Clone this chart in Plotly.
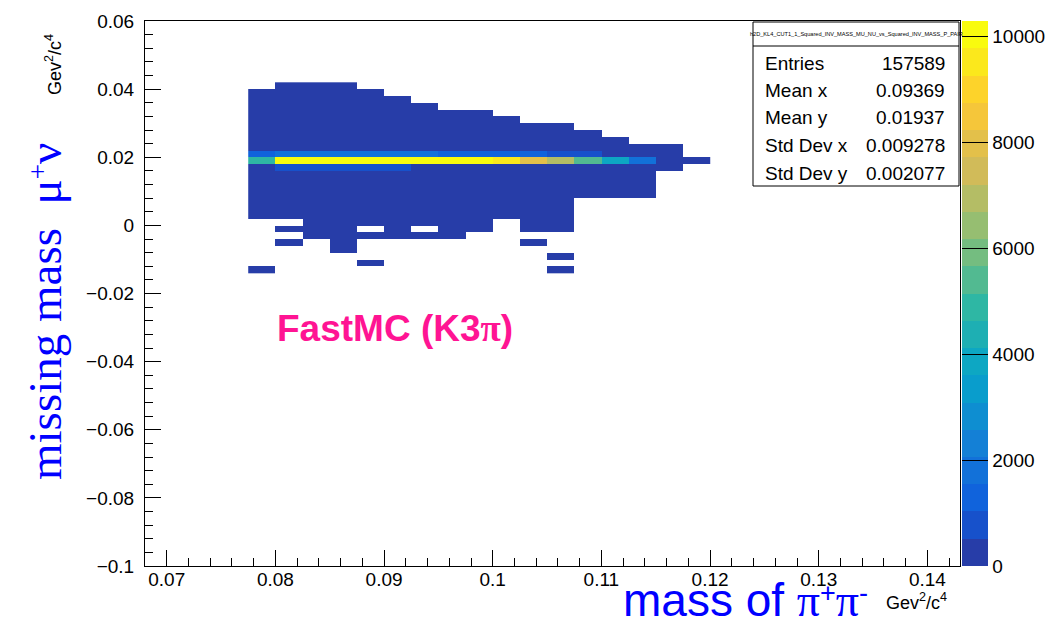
import plotly.graph_objects as go

# ---------------- data ----------------
x_centers = [0.07875, 0.08125, 0.08375, 0.08625, 0.08875, 0.09125, 0.09375, 0.09625,
             0.09875, 0.10125, 0.10375, 0.10625, 0.10875, 0.11125, 0.11375, 0.11625, 0.11875]
y_centers = [0.041, 0.039, 0.037, 0.035, 0.033, 0.031, 0.029, 0.027, 0.025, 0.023,
             0.021, 0.019, 0.017, 0.015, 0.013, 0.011, 0.009, 0.007, 0.005, 0.003,
             0.001, -0.001, -0.003, -0.005, -0.007, -0.009, -0.011, -0.013]
N = None
counts = [
    [N, 12, 15, 10, N, N, N, N, N, N, N, N, N, N, N, N, N],
    [8, 20, 22, 18, 9, N, N, N, N, N, N, N, N, N, N, N, N],
    [10, 25, 28, 24, 17, 8, N, N, N, N, N, N, N, N, N, N, N],
    [12, 30, 33, 30, 22, 15, 7, N, N, N, N, N, N, N, N, N, N],
    [14, 36, 40, 35, 28, 20, 14, 8, 5, N, N, N, N, N, N, N, N],
    [17, 44, 48, 42, 34, 27, 19, 13, 9, 5, N, N, N, N, N, N, N],
    [20, 55, 58, 52, 42, 33, 25, 18, 13, 9, 6, 4, N, N, N, N, N],
    [25, 70, 74, 66, 53, 42, 33, 25, 18, 13, 9, 6, 4, N, N, N, N],
    [32, 95, 98, 88, 72, 58, 45, 35, 27, 20, 14, 10, 7, 4, N, N, N],
    [45, 160, 170, 150, 125, 100, 80, 62, 48, 36, 26, 19, 13, 9, 5, 3, N],
    [1400, 1950, 2000, 1980, 1900, 1800, 1650, 1500, 1400, 1300, 1150, 950, 700, 450, 260, 90, N],
    [4900, 10100, 10290, 10250, 10180, 10120, 10050, 9950, 9850, 9500, 7950, 6950, 5400, 3850, 1800, 380, 120],
    [200, 900, 950, 920, 850, 750, 480, 420, 380, 340, 290, 240, 180, 120, 70, 30, N],
    [60, 180, 190, 175, 160, 145, 130, 115, 100, 88, 75, 62, 48, 32, 18, N, N],
    [35, 100, 105, 98, 90, 82, 74, 66, 58, 50, 42, 35, 27, 18, 10, N, N],
    [25, 70, 74, 68, 62, 57, 51, 46, 40, 35, 30, 24, 18, 12, 7, N, N],
    [20, 52, 55, 50, 46, 42, 38, 34, 30, 26, 22, 18, 13, 9, 5, N, N],
    [16, 40, 42, 38, 35, 32, 29, 26, 23, 20, 16, 12, N, N, N, N, N],
    [12, 30, 32, 29, 27, 24, 22, 19, 17, 15, 12, 9, N, N, N, N, N],
    [9, 22, 24, 22, 20, 18, 16, 14, 12, 10, 8, 6, N, N, N, N, N],
    [N, N, 15, 14, 12, 11, 9, 8, 7, N, 5, 4, N, N, N, N, N],
    [N, 3, 9, 8, N, 7, N, 5, 4, N, 3, 2, N, N, N, N, N],
    [N, N, 5, 5, 4, 4, 3, 3, N, N, N, N, N, N, N, N, N],
    [N, 2, N, 3, N, N, N, N, N, N, 2, N, N, N, N, N, N],
    [N, N, N, 2, N, N, N, N, N, N, N, N, N, N, N, N, N],
    [N, N, N, N, N, N, N, N, N, N, N, 1, N, N, N, N, N],
    [N, N, N, N, 1, N, N, N, N, N, N, N, N, N, N, N, N],
    [1, N, N, N, N, N, N, N, N, N, N, 1, N, N, N, N, N],
]
z_max = 10290

stats_title = "h2D_KL4_CUT1_1_Squared_INV_MASS_MU_NU_vs_Squared_INV_MASS_P_PAIR"
stats_labels = ["Entries", "Mean x", "Mean y", "Std Dev x", "Std Dev y"]
stats_values = ["157589", "0.09369", "0.01937", "0.009278", "0.002077"]

# ---------------- ROOT kBird palette, 20 contour levels ----------------
stops = [0.0, 0.125, 0.25, 0.375, 0.5, 0.625, 0.75, 0.875, 1.0]
red = [0.2082, 0.0592, 0.0780, 0.0232, 0.1802, 0.5301, 0.8186, 0.9956, 0.9764]
green = [0.1664, 0.3599, 0.5041, 0.6419, 0.7178, 0.7492, 0.7328, 0.7862, 0.9832]
blue = [0.5293, 0.8684, 0.8385, 0.7914, 0.6425, 0.4662, 0.3499, 0.1968, 0.0539]


def bird(f):
    for k in range(len(stops) - 1):
        if stops[k] <= f <= stops[k + 1]:
            t = (f - stops[k]) / (stops[k + 1] - stops[k])
            r = red[k] + t * (red[k + 1] - red[k])
            g = green[k] + t * (green[k + 1] - green[k])
            b = blue[k] + t * (blue[k + 1] - blue[k])
            return "rgb(%d,%d,%d)" % (round(r * 255), round(g * 255), round(b * 255))
    return "rgb(0,0,0)"


ncont = 20
colorscale = []
for i in range(ncont):
    idx = int((i + 0.99) * 255 / ncont)
    c = bird(min(idx, 254) / 254)
    colorscale.append([i / ncont, c])
    colorscale.append([(i + 1) / ncont, c])

# ---------------- layout geometry (pixels) ----------------
W, H = 1053, 627
L, R, T, B = 145, 960, 21, 566


def px(xp):
    return (xp - L) / (R - L)


def py(yp):
    return (B - yp) / (B - T)


SANS = "Liberation Sans, Arial, Helvetica, sans-serif"
SERIF = "Liberation Serif, Times New Roman, serif"

fig = go.Figure()
fig.add_trace(go.Heatmap(
    x=x_centers, y=y_centers, z=counts,
    zmin=0, zmax=z_max, colorscale=colorscale, zsmooth=False,
    hoverongaps=False,
    colorbar=dict(
        x=px(962), xanchor="left",
        y=0, yanchor="bottom",
        lenmode="fraction", len=1,
        thicknessmode="pixels", thickness=26,
        outlinewidth=0,
        tick0=0, dtick=2000, tickformat="d",
        ticks="inside", ticklen=26, tickcolor="black", tickwidth=1,
        tickfont=dict(family=SANS, size=19, color="black"),
        xpad=0, ypad=0,
    ),
))

fig.update_layout(
    width=W, height=H,
    margin=dict(l=L, r=W - R, t=T, b=H - B, pad=0, autoexpand=False),
    paper_bgcolor="white", plot_bgcolor="white",
    showlegend=False,
    xaxis=dict(
        range=[0.068, 0.143], showgrid=False, zeroline=False,
        showline=True, linecolor="black", linewidth=1, mirror=True,
        tick0=0.07, dtick=0.01, ticks="inside", ticklen=16, tickcolor="black",
        minor=dict(dtick=0.002, tick0=0.07, ticks="inside", ticklen=8, tickcolor="black", showgrid=False),
        tickfont=dict(family=SANS, size=19, color="black"),
        ticklabelstandoff=-4,
    ),
    yaxis=dict(
        range=[-0.1, 0.06], showgrid=False, zeroline=False,
        showline=True, linecolor="black", linewidth=1, mirror=True,
        tick0=0, dtick=0.02, ticks="inside", ticklen=16, tickcolor="black",
        minor=dict(dtick=0.004, tick0=0, ticks="inside", ticklen=8, tickcolor="black", showgrid=False),
        tickfont=dict(family=SANS, size=19, color="black"),
        ticklabelstandoff=6,
    ),
)

SUP = '<span style="font-size:27px;baseline-shift:14px">%s</span>'

ann = []
# axis titles
ann.append(dict(x=px(45), y=py(312), xref="paper", yref="paper", textangle=-90,
                text="missing mass  μ" + SUP % "+" + "ν", showarrow=False,
                font=dict(family=SERIF, size=47, color="#0000ff"),
                xanchor="center", yanchor="middle"))
ann.append(dict(x=px(53), y=py(65), xref="paper", yref="paper", textangle=-90,
                text="Gev<sup>2</sup>/c<sup>4</sup>", showarrow=False,
                font=dict(family=SANS, size=18, color="black"),
                xanchor="center", yanchor="middle"))
ann.append(dict(x=px(745), y=py(600), xref="paper", yref="paper",
                text='mass of <span style="font-family:Liberation Serif">π</span>' + SUP % "+"
                     + '<span style="font-family:Liberation Serif">π</span>' + SUP % "-",
                showarrow=False, font=dict(family=SANS, size=46, color="#0000ff"),
                xanchor="center", yanchor="middle"))
ann.append(dict(x=px(916), y=py(601), xref="paper", yref="paper",
                text="Gev<sup>2</sup>/c<sup>4</sup>", showarrow=False,
                font=dict(family=SANS, size=18, color="black"),
                xanchor="center", yanchor="middle"))
# label
ann.append(dict(x=px(395), y=py(328), xref="paper", yref="paper",
                text='<b>FastMC (K3<span style="font-family:Liberation Serif">π</span>)</b>',
                showarrow=False, font=dict(family=SANS, size=37, color="#ff1493"),
                xanchor="center", yanchor="middle"))

# stats box
shapes = [
    dict(type="rect", xref="paper", yref="paper", x0=px(753), x1=px(959), y0=py(186), y1=py(22),
         line=dict(color="black", width=1), fillcolor="white", layer="above"),
    dict(type="line", xref="paper", yref="paper", x0=px(753), x1=px(959), y0=py(46), y1=py(46),
         line=dict(color="black", width=1), layer="above"),
]
ann.append(dict(x=px(856), y=py(34), xref="paper", yref="paper", text=stats_title,
                showarrow=False, font=dict(family=SANS, size=5.6, color="black"),
                xanchor="center", yanchor="middle"))
row_y = [63, 90.5, 118, 146, 173]
for lab, val, yy in zip(stats_labels, stats_values, row_y):
    ann.append(dict(x=px(763), y=py(yy), xref="paper", yref="paper", text=lab, showarrow=False,
                    font=dict(family=SANS, size=19, color="black"), xanchor="left", yanchor="middle"))
    ann.append(dict(x=px(947), y=py(yy), xref="paper", yref="paper", text=val, showarrow=False,
                    font=dict(family=SANS, size=19, color="black"), xanchor="right", yanchor="middle"))

fig.update_layout(annotations=ann, shapes=shapes)
fig.write_html("out.html")
